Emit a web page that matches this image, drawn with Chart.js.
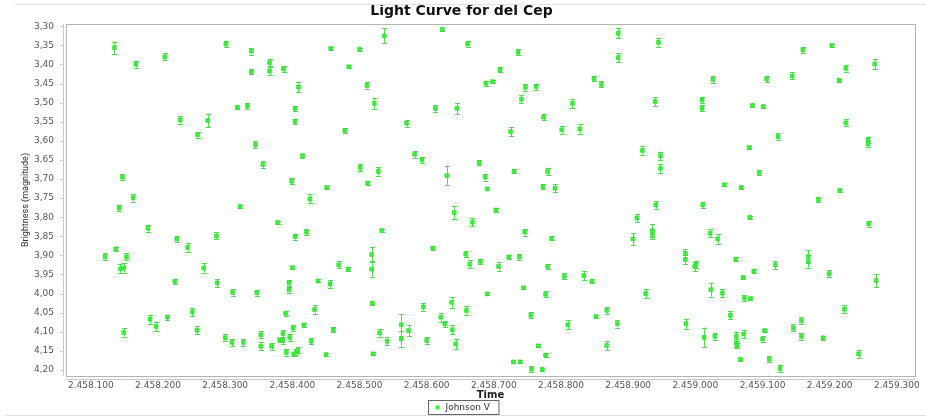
<!DOCTYPE html>
<html>
<head>
<meta charset="utf-8">
<script src="https://cdn.jsdelivr.net/npm/chart.js@4/dist/chart.umd.min.js"></script>
<style>
    html, body { margin: 0; padding: 0; background: #fff; }
    #wrap { width: 926px; height: 417px; position: relative; }
</style>
</head>
<body>
<div id="wrap"><canvas id="chart" width="926" height="417"></canvas></div>
<script>
const chartTitle = "Light Curve for del Cep";
const seriesName = "Johnson V";

// time (JD), magnitude, error
const times = [
    2458135, 2458167, 2458210, 2458233, 2458259, 2458274, 2458301, 2458318, 2458333, 2458339,
    2458339, 2458345, 2458356, 2458366, 2458366, 2458387, 2458409, 2458404, 2458404, 2458415,
    2458399, 2458426, 2458147, 2458163, 2458142, 2458322, 2458185, 2458228, 2458244, 2458287,
    2458378, 2458404, 2458421, 2458121, 2458137, 2458153, 2458144, 2458149, 2458268, 2458225,
    2458288, 2458311, 2458347, 2458400, 2458395, 2458395, 2458438, 2458251, 2458390, 2458433,
    2458188, 2458197, 2458214, 2458149, 2458258, 2458300, 2458310, 2458327, 2458353, 2458353,
    2458369, 2458381, 2458386, 2458386, 2458396, 2458401, 2458417, 2458428, 2458391, 2458402,
    2458406, 2458408, 2458457, 2458500, 2458484, 2458537, 2458623, 2458661, 2458511, 2458522,
    2458478, 2458570, 2458613, 2458645, 2458688, 2458698, 2458709, 2458736, 2458747, 2458763,
    2458741, 2458774, 2458817, 2458725, 2458801, 2458828, 2458849, 2458860, 2458885, 2458885,
    2458582, 2458593, 2458501, 2458512, 2458528, 2458630, 2458678, 2458687, 2458690, 2458730,
    2458780, 2458773, 2458791, 2458451, 2458533, 2458641, 2458668, 2458703, 2458746, 2458786,
    2458609, 2458658, 2458664, 2458680, 2458707, 2458722, 2458738, 2458780, 2458469, 2458483,
    2458518, 2458518, 2458456, 2458744, 2458805, 2458834, 2458846, 2458690, 2458777, 2458519,
    2458595, 2458637, 2458659, 2458621, 2458627, 2458638, 2458643, 2458461, 2458450, 2458530,
    2458541, 2458562, 2458562, 2458573, 2458600, 2458520, 2458755, 2458810, 2458852, 2458868,
    2458884, 2458868, 2458766, 2458777, 2458729, 2458739, 2458756, 2458772, 2458945, 2458940,
    2459010, 2459010, 2459026, 2459085, 2459101, 2459106, 2459144, 2459160, 2459203, 2459214,
    2459224, 2459267, 2459123, 2459224, 2459257, 2459257, 2459080, 2458921, 2458948, 2458948,
    2459095, 2459043, 2459068, 2459183, 2459215, 2458941, 2459011, 2458913, 2459081, 2459258,
    2458907, 2458936, 2458936, 2459022, 2459033, 2458985, 2458985, 2458999, 2459001, 2459060,
    2459119, 2459168, 2459168, 2459071, 2459087, 2459199, 2459269, 2458926, 2459023, 2459040,
    2459073, 2459082, 2459052, 2459222, 2458986, 2459013, 2459029, 2459061, 2459061, 2459062,
    2459072, 2459100, 2459103, 2459146, 2459158, 2459158, 2459190, 2459243, 2459067, 2459110,
    2459126
];
const mags = [
    3.356, 3.399, 3.380, 3.545, 3.584, 3.547, 3.346, 3.512, 3.509, 3.365,
    3.419, 3.610, 3.662, 3.395, 3.417, 3.412, 3.459, 3.515, 3.549, 3.639,
    3.706, 3.752, 3.695, 3.749, 3.776, 3.772, 3.829, 3.857, 3.879, 3.849,
    3.814, 3.851, 3.839, 3.903, 3.883, 3.904, 3.935, 3.933, 3.933, 3.968,
    3.972, 3.997, 3.998, 3.932, 3.972, 3.990, 3.967, 4.048, 4.052, 4.042,
    4.067, 4.086, 4.062, 4.102, 4.096, 4.116, 4.128, 4.128, 4.108, 4.138,
    4.138, 4.121, 4.105, 4.123, 4.115, 4.090, 4.082, 4.125, 4.154, 4.158,
    4.153, 4.149, 3.358, 3.360, 3.406, 3.325, 3.308, 3.346, 3.455, 3.502,
    3.573, 3.554, 3.515, 3.515, 3.449, 3.445, 3.414, 3.368, 3.460, 3.458,
    3.491, 3.538, 3.502, 3.576, 3.571, 3.569, 3.437, 3.452, 3.318, 3.382,
    3.635, 3.650, 3.670, 3.711, 3.680, 3.691, 3.657, 3.695, 3.726, 3.680,
    3.680, 3.720, 3.724, 3.722, 3.835, 3.788, 3.813, 3.781, 3.839, 3.855,
    3.881, 3.897, 3.923, 3.916, 3.929, 3.904, 3.904, 3.929, 3.925, 3.936,
    3.898, 3.936, 3.975, 3.985, 3.955, 3.953, 3.968, 4.001, 4.002, 4.025,
    4.035, 4.023, 4.044, 4.062, 4.079, 4.095, 4.132, 4.095, 4.160, 4.103,
    4.125, 4.082, 4.119, 4.097, 4.123, 4.158, 4.057, 4.082, 4.060, 4.044,
    4.079, 4.136, 4.137, 4.161, 4.179, 4.179, 4.198, 4.198, 3.342, 3.497,
    3.493, 3.515, 3.439, 3.507, 3.510, 3.438, 3.430, 3.362, 3.350, 3.441,
    3.410, 3.399, 3.589, 3.553, 3.597, 3.608, 3.617, 3.625, 3.639, 3.672,
    3.683, 3.715, 3.722, 3.754, 3.730, 3.768, 3.768, 3.802, 3.800, 3.817,
    3.857, 3.835, 3.846, 3.842, 3.857, 3.895, 3.911, 3.929, 3.923, 3.910,
    3.925, 3.903, 3.916, 3.958, 3.941, 3.948, 3.966, 4.000, 3.990, 3.999,
    4.012, 4.013, 4.057, 4.041, 4.079, 4.115, 4.112, 4.112, 4.129, 4.136,
    4.106, 4.119, 4.097, 4.090, 4.071, 4.112, 4.116, 4.158, 4.172, 4.172,
    4.196
];
const errs = [
    0.016, 0.009, 0.009, 0.010, 0.008, 0.017, 0.008, 0.004, 0.008, 0.009,
    0.007, 0.009, 0.009, 0.010, 0.010, 0.007, 0.014, 0.007, 0.007, 0.005,
    0.008, 0.012, 0.007, 0.010, 0.007, 0.005, 0.009, 0.008, 0.011, 0.009,
    0.005, 0.008, 0.008, 0.010, 0.006, 0.009, 0.012, 0.012, 0.012, 0.007,
    0.011, 0.009, 0.008, 0.004, 0.008, 0.008, 0.004, 0.011, 0.007, 0.011,
    0.012, 0.012, 0.007, 0.011, 0.010, 0.009, 0.010, 0.009, 0.009, 0.010,
    0.009, 0.005, 0.009, 0.009, 0.010, 0.008, 0.005, 0.008, 0.010, 0.005,
    0.007, 0.008, 0.004, 0.004, 0.004, 0.020, 0.004, 0.007, 0.008, 0.015,
    0.006, 0.009, 0.009, 0.015, 0.007, 0.004, 0.007, 0.008, 0.009, 0.008,
    0.010, 0.007, 0.012, 0.012, 0.010, 0.012, 0.007, 0.008, 0.013, 0.012,
    0.009, 0.008, 0.010, 0.005, 0.011, 0.026, 0.006, 0.009, 0.004, 0.005,
    0.010, 0.007, 0.010, 0.004, 0.005, 0.016, 0.011, 0.005, 0.009, 0.005,
    0.005, 0.008, 0.010, 0.007, 0.011, 0.006, 0.008, 0.007, 0.009, 0.005,
    0.020, 0.020, 0.010, 0.004, 0.008, 0.012, 0.005, 0.004, 0.008, 0.004,
    0.010, 0.014, 0.011, 0.012, 0.008, 0.012, 0.013, 0.007, 0.004, 0.010,
    0.010, 0.028, 0.020, 0.015, 0.009, 0.004, 0.008, 0.012, 0.004, 0.009,
    0.010, 0.012, 0.004, 0.004, 0.004, 0.004, 0.008, 0.004, 0.011, 0.011,
    0.008, 0.008, 0.010, 0.004, 0.004, 0.009, 0.009, 0.008, 0.004, 0.004,
    0.009, 0.013, 0.009, 0.009, 0.008, 0.008, 0.004, 0.011, 0.011, 0.012,
    0.007, 0.004, 0.004, 0.007, 0.005, 0.010, 0.007, 0.010, 0.004, 0.008,
    0.016, 0.016, 0.012, 0.011, 0.012, 0.012, 0.012, 0.012, 0.009, 0.005,
    0.011, 0.016, 0.016, 0.004, 0.005, 0.009, 0.017, 0.012, 0.018, 0.011,
    0.007, 0.004, 0.010, 0.011, 0.013, 0.026, 0.009, 0.012, 0.010, 0.007,
    0.011, 0.008, 0.005, 0.009, 0.009, 0.009, 0.006, 0.010, 0.004, 0.008,
    0.010
];

const GREEN = "#3aee3a";
const TICK_FONT = { family: "DejaVu Sans", size: 9 };

const fmtTime = (v) => String(Math.round(v)).replace(/\B(?=(\d{3})+(?!\d))/g, ".");
const fmtMag = (v) => v.toFixed(2).replace(".", ",");

// error bars, axis lines, tick marks and a boxed legend
const extras = {
    id: "extras",
    beforeDatasetsDraw(chart) {
        const { ctx } = chart;
        const xs = chart.scales.x, ys = chart.scales.y;
        ctx.save();
        ctx.strokeStyle = "#55d855";
        ctx.lineWidth = 1;
        ctx.beginPath();
        times.forEach((t, i) => {
            const x = Math.round(xs.getPixelForValue(t)) + 0.5;
            const y1 = ys.getPixelForValue(mags[i] - errs[i]);
            const y2 = ys.getPixelForValue(mags[i] + errs[i]);
            ctx.moveTo(x, y1); ctx.lineTo(x, y2);
            ctx.moveTo(x - 2.5, Math.round(y1) + 0.5); ctx.lineTo(x + 2.5, Math.round(y1) + 0.5);
            ctx.moveTo(x - 2.5, Math.round(y2) + 0.5); ctx.lineTo(x + 2.5, Math.round(y2) + 0.5);
        });
        ctx.stroke();
        ctx.restore();
    },
    afterDraw(chart) {
        const { ctx, chartArea: a } = chart;
        const xs = chart.scales.x, ys = chart.scales.y;
        ctx.save();
        // outer frame lines
        ctx.strokeStyle = "#e2e2e2";
        ctx.lineWidth = 1;
        ctx.beginPath();
        ctx.moveTo(15, 4.5); ctx.lineTo(926, 4.5);
        ctx.moveTo(5, 415.5); ctx.lineTo(926, 415.5);
        ctx.stroke();
        // plot box
        ctx.strokeStyle = "#b4b4b4";
        ctx.strokeRect(a.left + 0.5, a.top + 0.5, a.right - a.left, a.bottom - a.top);
        // offset axes with ticks
        ctx.strokeStyle = "#c8c8c8";
        ctx.beginPath();
        ctx.moveTo(63.5, a.top); ctx.lineTo(63.5, a.bottom);
        ctx.moveTo(a.left, 379.5); ctx.lineTo(a.right, 379.5);
        ys.ticks.forEach((tk) => {
            const y = Math.round(ys.getPixelForValue(tk.value)) + 0.5;
            ctx.moveTo(60, y); ctx.lineTo(63.5, y);
        });
        xs.ticks.forEach((tk) => {
            const x = Math.round(xs.getPixelForValue(tk.value)) + 0.5;
            ctx.moveTo(x, 379.5); ctx.lineTo(x, 383);
        });
        ctx.stroke();
        // legend
        const label = chart.data.datasets[0].label;
        ctx.font = "9px 'DejaVu Sans'";
        const tw = ctx.measureText(label).width;
        const w = tw + 26, h = 14;
        const lx = Math.round(463 - w / 2) + 0.5, ly = 400.5;
        ctx.strokeStyle = "#666";
        ctx.strokeRect(lx, ly, w, h);
        ctx.fillStyle = GREEN;
        ctx.fillRect(lx + 7, ly + 5, 4, 4);
        ctx.fillStyle = "#333";
        ctx.textBaseline = "middle";
        ctx.fillText(label, lx + 17, ly + h / 2 + 0.5);
        ctx.restore();
    },
};

const data = {
    datasets: [
        {
            label: seriesName,
            data: times.map((t, i) => ({ x: t, y: mags[i] })),
            showLine: false,
            pointStyle: "rect",
            pointRadius: 2.8,
            backgroundColor: GREEN,
            borderColor: "#2bd82b",
            borderWidth: 0.5,
        },
    ],
};

const config = {
    type: "scatter",
    data: data,
    plugins: [extras],
    options: {
        responsive: false,
        animation: false,
        layout: {
            padding: { left: 8, right: 11, top: 0, bottom: 14 },
        },
        scales: {
            x: {
                type: "linear",
                min: 2458063,
                max: 2459327,
                grid: { display: false, drawTicks: false },
                border: { display: false },
                ticks: {
                    stepSize: 100,
                    includeBounds: false,
                    autoSkip: false,
                    maxRotation: 0,
                    padding: 4,
                    color: "#555",
                    font: TICK_FONT,
                    callback: (v) => fmtTime(v),
                },
                title: {
                    display: true,
                    text: "Time",
                    color: "#222",
                    font: { family: "DejaVu Sans", size: 10, weight: "bold" },
                    padding: { top: 0, bottom: 2 },
                },
                afterFit: (s) => { s.height = 27; },
            },
            y: {
                reverse: true,
                min: 3.294,
                max: 4.216,
                grid: { display: false, drawTicks: false },
                border: { display: false },
                ticks: {
                    stepSize: 0.05,
                    includeBounds: false,
                    autoSkip: false,
                    padding: 12,
                    color: "#555",
                    font: TICK_FONT,
                    callback: (v) => fmtMag(v),
                },
                title: {
                    display: true,
                    text: "Brightness (magnitude)",
                    color: "#333",
                    font: { family: "Roboto", size: 9 },
                    padding: { top: 12, bottom: 0 },
                },
                afterFit: (s) => { s.width = 58; },
            },
        },
        plugins: {
            legend: { display: false },
            tooltip: { enabled: false },
            title: {
                display: true,
                text: chartTitle,
                color: "#111",
                font: { family: "DejaVu Sans", size: 14, weight: "bold" },
                padding: { top: 3, bottom: 4.2 },
            },
        },
    },
};

const chart = new Chart(document.getElementById("chart"), config);
</script>
</body>
</html>
